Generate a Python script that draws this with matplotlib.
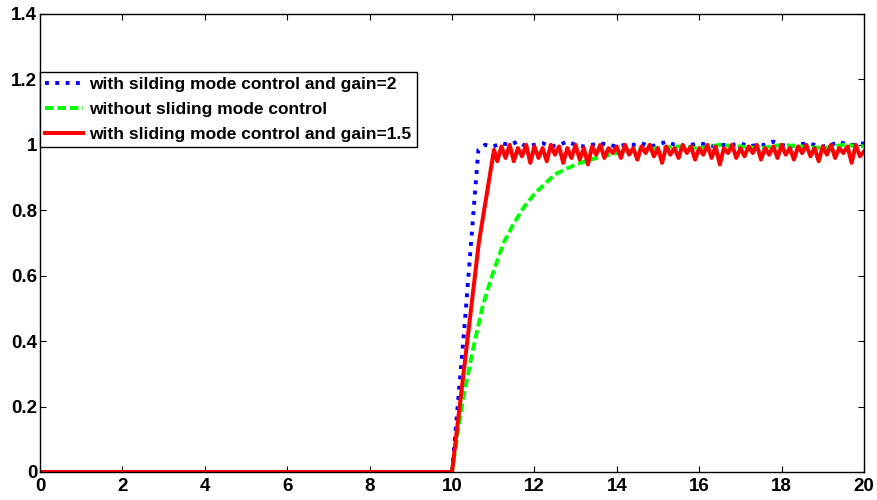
import numpy as np
import matplotlib.pyplot as plt

plt.rcParams['font.family'] = ['Liberation Sans', 'DejaVu Sans']
plt.rcParams['font.weight'] = 'bold'

# with sliding mode control, gain = 2 (blue dotted)
t_blue = [0, 10.0, 10.3, 10.64] + list(np.round(np.arange(10.8, 20.01, 0.2), 2))
y_blue = [0, 0, 0.44, 0.985,
          1.0, 0.995, 1.005, 1.0, 1.01, 0.995, 1.0, 1.005, 0.995, 1.0,
          1.01, 1.0, 0.995, 1.0, 1.005, 1.0, 0.995, 1.0, 1.0, 1.005,
          0.995, 1.0, 1.01, 1.0, 0.995, 1.0, 1.005, 1.0, 0.995, 1.0,
          1.0, 1.005, 0.995, 1.0, 1.0, 1.01, 1.0, 0.995, 1.0, 1.005,
          1.0, 0.995, 1.0, 1.01, 1.0, 1.0, 1.005]

# without sliding mode control (green dashed)
t_green = [0, 10.0, 10.25, 10.5, 10.75, 11.0, 11.25, 11.5, 11.75, 12.0,
           12.5, 13.0, 13.5, 14.0, 14.5, 15.0, 15.5, 16.0, 16.5, 17.0,
           17.5, 18.0, 18.5, 19.0, 19.5, 20.0]
y_green = [0, 0, 0.21, 0.37, 0.51, 0.61, 0.70, 0.76, 0.81, 0.85,
           0.91, 0.94, 0.96, 0.975, 0.985, 0.99, 0.995, 0.99, 1.0, 0.995,
           0.99, 1.0, 0.995, 0.99, 1.0, 0.995]

# with sliding mode control, gain = 1.5 (red solid)
t_red = [0, 10.0, 10.65, 11.02] + list(np.round(np.arange(11.1, 20.01, 0.1), 2))
y_red = [0, 0, 0.70, 0.985,
         0.95, 0.995, 0.96, 1.0, 0.95, 0.99, 0.965, 1.0, 0.945, 0.995,
         0.96, 0.99, 0.95, 1.0, 0.97, 0.995, 0.945, 0.99, 0.96, 1.0,
         0.955, 0.99, 0.94, 0.995, 0.97, 1.0, 0.96, 0.99, 0.975, 0.995,
         0.96, 1.0, 0.97, 0.99, 0.955, 0.995, 0.975, 1.0, 0.965, 0.99,
         0.945, 0.995, 0.97, 0.99, 0.96, 1.0, 0.975, 0.995, 0.955, 0.99,
         0.97, 1.0, 0.96, 0.995, 0.94, 0.99, 0.975, 1.0, 0.96, 0.99,
         0.965, 0.995, 0.975, 1.0, 0.955, 0.99, 0.97, 0.995, 0.96, 1.0,
         0.97, 0.99, 0.955, 0.995, 0.975, 1.0, 0.965, 0.99, 0.95, 0.995,
         0.97, 1.0, 0.96, 0.99, 0.975, 0.995, 0.945, 1.0, 0.965, 0.98]

xticks = np.arange(0, 21, 2)
yticks = [0, 0.2, 0.4, 0.6, 0.8, 1, 1.2, 1.4]
ytick_labels = ['0', '0.2', '0.4', '0.6', '0.8', '1', '1.2', '1.4']

fig = plt.figure(figsize=(8.77, 5), dpi=100)
ax = fig.add_axes([40 / 877, 1 - 472 / 500, 824 / 877, 458 / 500])

ax.plot(t_blue, y_blue, color='#0000FF', linestyle=':', lw=2.8,
        label='with silding mode control and gain=2')
ax.plot(t_green, y_green, color='#00FF00', lw=2.8, dashes=(2.2, 1.0),
        label='without sliding mode control')
ax.plot(t_red, y_red, color='#FF0000', lw=2.9,
        label='with sliding mode control and gain=1.5')

ax.set_xlim(0, 20)
ax.set_ylim(0, 1.4)
ax.set_xticks(xticks)
ax.set_xticklabels([str(v) for v in xticks])
ax.set_yticks(yticks)
ax.set_yticklabels(ytick_labels)
ax.tick_params(direction='in', length=4, width=0.8, top=True, right=True,
               labelsize=13.5)
ax.tick_params(axis='x', pad=4)
ax.tick_params(axis='y', pad=2)
for s in ax.spines.values():
    s.set_linewidth(1.0)

leg = ax.legend(loc='upper left', bbox_to_anchor=(0, 1 - 58 / 458),
                borderaxespad=0, fancybox=False, framealpha=1,
                edgecolor='black', fontsize=12.5, handlelength=2.2,
                handletextpad=0.35, labelspacing=0.55, borderpad=0.3)
leg.get_frame().set_linewidth(1.0)

fig.savefig('out.png', dpi=100)
